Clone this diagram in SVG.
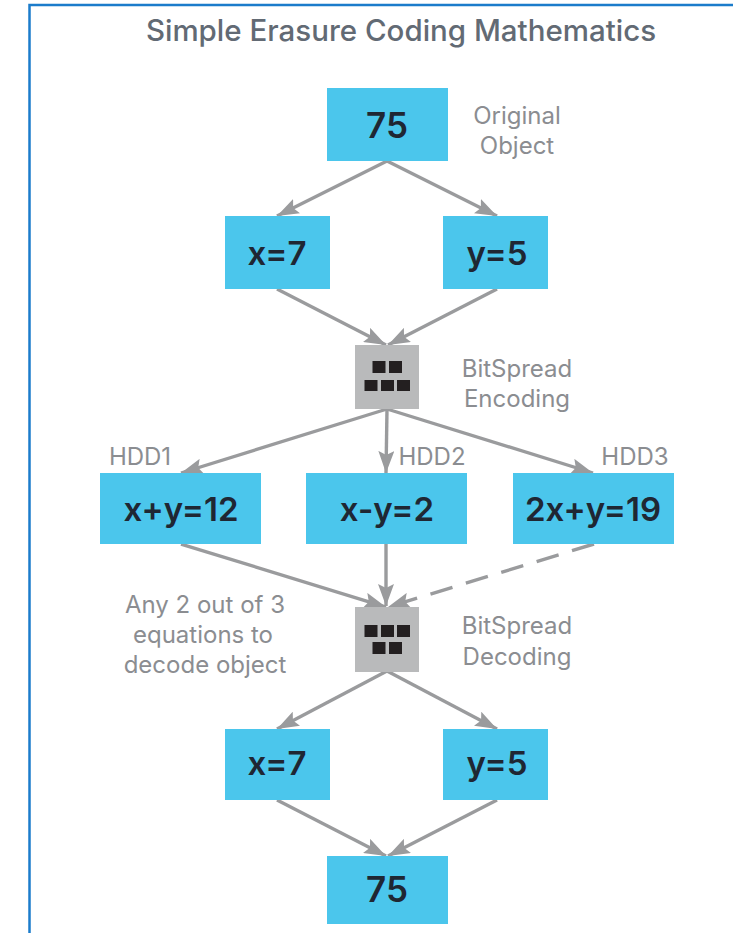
<svg xmlns="http://www.w3.org/2000/svg" width="733" height="933" viewBox="0 0 733 933">
<style>
.b{fill:#4bc6ec}
.g{fill:#b9babb}
.k{fill:#231f20}
text{font-family:"Inter","Liberation Sans",sans-serif}
.t{font-size:29.5px;font-weight:500;fill:#626a74;text-anchor:middle}
.v{font-weight:600;fill:#1f2733;text-anchor:middle}
.l{font-size:24px;fill:#8b8d91;text-anchor:middle}
.c line{stroke:#9a9b9d;stroke-width:3.4}
</style>
<defs>
<marker id="a" markerUnits="userSpaceOnUse" markerWidth="24" markerHeight="16" refX="22" refY="8" orient="auto"><path d="M0 0L22 8L0 16L4 8Z" fill="#9a9b9d"/></marker>
</defs>
<rect width="733" height="933" fill="#fff"/>
<path d="M29.500 933V5H733" fill="none" stroke="#1b7ccb" stroke-width="2.500"/>
<text class="t" x="401" y="41">Simple Erasure Coding Mathematics</text>
<g class="c">
<line x1="387" y1="161" x2="277" y2="216" marker-end="url(#a)"/>
<line x1="387" y1="161" x2="497" y2="216" marker-end="url(#a)"/>
<line x1="277" y1="289" x2="386" y2="345" marker-end="url(#a)"/>
<line x1="497" y1="289" x2="388" y2="345" marker-end="url(#a)"/>
<line x1="387" y1="409" x2="181" y2="473" marker-end="url(#a)"/>
<line x1="387" y1="409" x2="386" y2="473" marker-end="url(#a)"/>
<line x1="387" y1="409" x2="593" y2="473" marker-end="url(#a)"/>
<line x1="181" y1="544" x2="386" y2="607" marker-end="url(#a)"/>
<line x1="386" y1="544" x2="386" y2="606" marker-end="url(#a)"/>
<line x1="594" y1="544" x2="388" y2="607" stroke-dasharray="23 14" marker-end="url(#a)"/>
<line x1="387" y1="671" x2="277" y2="729" marker-end="url(#a)"/>
<line x1="387" y1="671" x2="497" y2="729" marker-end="url(#a)"/>
<line x1="277" y1="800" x2="386" y2="856" marker-end="url(#a)"/>
<line x1="497" y1="800" x2="388" y2="856" marker-end="url(#a)"/>
</g>
<g id="n-object"><rect class="b" x="327" y="88" width="121" height="73"/><text class="v" x="387" y="138" font-size="35">75</text></g>
<text class="l" x="517" y="124">Original</text><text class="l" x="517" y="154">Object</text>
<g id="n-x1"><rect class="b" x="225" y="216" width="105" height="73"/><text class="v" x="277" y="265" font-size="33">x=7</text></g>
<g id="n-y1"><rect class="b" x="443" y="216" width="105" height="73"/><text class="v" x="497" y="265" font-size="33">y=5</text></g>
<g id="n-encode"><rect class="g" x="355" y="345" width="64" height="64"/>
<rect class="k" x="372.500" y="361" width="13" height="12"/><rect class="k" x="389" y="361" width="13" height="12"/>
<rect class="k" x="364.500" y="380" width="13" height="11"/><rect class="k" x="381" y="380" width="13" height="11"/><rect class="k" x="397" y="380" width="13" height="11"/></g>
<text class="l" x="517" y="377">BitSpread</text><text class="l" x="517" y="407">Encoding</text>
<text class="l" x="140" y="465">HDD1</text><text class="l" x="432" y="465">HDD2</text><text class="l" x="635" y="465">HDD3</text>
<g id="n-hdd1"><rect class="b" x="100" y="473" width="161" height="71"/><text class="v" x="181" y="521" font-size="33">x+y=12</text></g>
<g id="n-hdd2"><rect class="b" x="306" y="473" width="161" height="71"/><text class="v" x="387" y="521" font-size="33">x-y=2</text></g>
<g id="n-hdd3"><rect class="b" x="513" y="473" width="161" height="71"/><text class="v" x="593" y="521" font-size="33">2x+y=19</text></g>
<text class="l" x="205" y="613">Any 2 out of 3</text><text class="l" x="203" y="643">equations to</text><text class="l" x="205" y="673">decode object</text>
<g id="n-decode"><rect class="g" x="355" y="607" width="64" height="65"/>
<rect class="k" x="364.500" y="625" width="13" height="12"/><rect class="k" x="381" y="625" width="13" height="12"/><rect class="k" x="397" y="625" width="13" height="12"/>
<rect class="k" x="372.500" y="642" width="13" height="12"/><rect class="k" x="389" y="642" width="13" height="12"/></g>
<text class="l" x="517" y="634">BitSpread</text><text class="l" x="517" y="665">Decoding</text>
<g id="n-x2"><rect class="b" x="225" y="729" width="105" height="71"/><text class="v" x="277" y="775" font-size="33">x=7</text></g>
<g id="n-y2"><rect class="b" x="443" y="729" width="105" height="71"/><text class="v" x="497" y="775" font-size="33">y=5</text></g>
<g id="n-result"><rect class="b" x="327" y="856" width="121" height="68"/><text class="v" x="387" y="902" font-size="35">75</text></g>
</svg>
